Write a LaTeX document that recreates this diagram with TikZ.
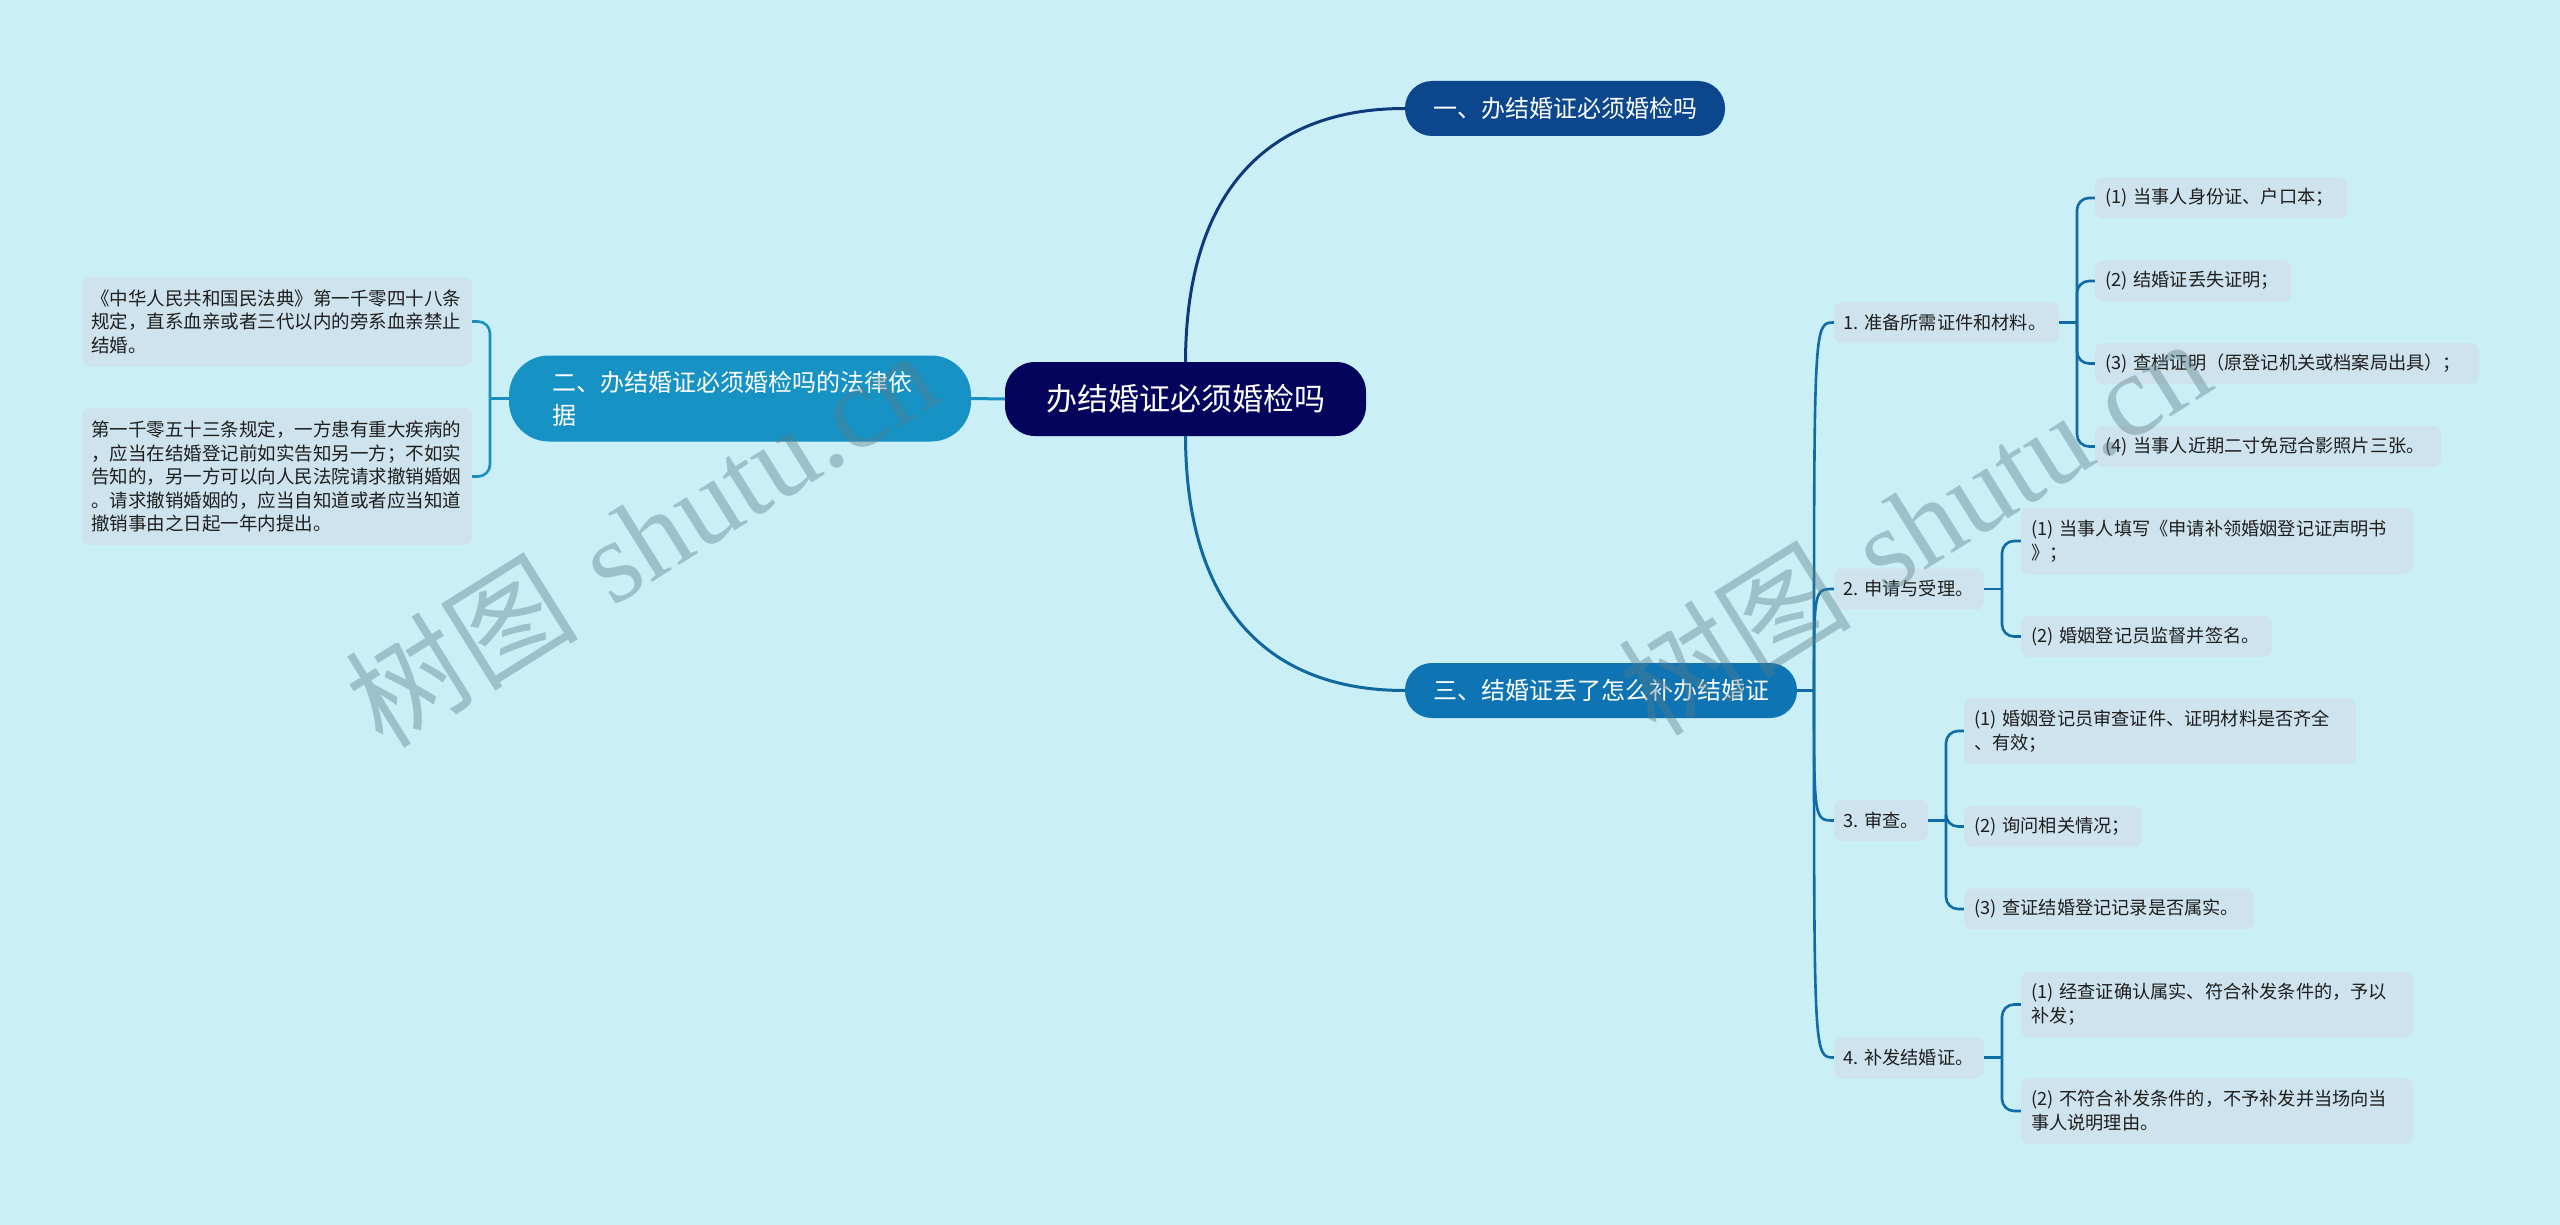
\documentclass[tikz,border=0pt]{standalone}
\usepackage{fontspec}
\newfontfamily\cjk{Noto Sans CJK SC}
\newfontfamily\wmserif{Liberation Serif}
\definecolor{bg}{RGB}{202,239,247}
\definecolor{rootc}{RGB}{4,4,92}
\definecolor{onec}{RGB}{12,70,140}
\definecolor{twoc}{RGB}{22,146,196}
\definecolor{threec}{RGB}{14,116,180}
\definecolor{leafc}{RGB}{206,227,238}
\definecolor{txt}{RGB}{30,30,30}
\definecolor{lineone}{RGB}{14,58,124}
\definecolor{linethree}{RGB}{16,104,160}
\definecolor{linetwo}{RGB}{26,144,192}
\definecolor{linesub}{RGB}{16,108,166}
\definecolor{wmc}{RGB}{90,125,135}
\begin{document}
\begin{tikzpicture}[x=1pt,y=-1pt,
  rootbox/.style={fill=rootc, text=white, rounded corners=30pt, inner xsep=30pt, inner ysep=0pt, minimum height=74pt, align=center, font=\cjk\fontsize{31}{36}\selectfont},
  topic/.style={fill=#1, text=white, rounded corners=27pt, inner xsep=28pt, inner ysep=0pt, minimum height=55pt, align=left, font=\cjk\fontsize{24}{33}\selectfont},
  leafbox/.style={fill=leafc, text=txt, rounded corners=8pt, inner xsep=9pt, inner ysep=0pt, align=left, font=\cjk\fontsize{18.5}{23.5}\selectfont},
  itembox/.style={fill=leafc, text=txt, rounded corners=8pt, inner xsep=10pt, inner ysep=0pt, minimum height=41pt, align=left, font=\cjk\fontsize{18.2}{24}\selectfont},
  mainline/.style={line width=3pt, #1},
  subline/.style={line width=2.6pt, draw=linesub},
  bracket/.style={line width=2.6pt, draw=#1, rounded corners=12pt},
  wm/.style={text=wmc, text opacity=0.4, font=\fontsize{117}{124}\selectfont, inner sep=0pt}
]
\useasboundingbox (0,0) rectangle (2560,1225);
\fill[bg] (0,0) rectangle (2560,1225);

% central and main topics
\node[rootbox, text width=301pt] (root) at (1185.5,399) {办结婚证必须婚检吗};
\node[topic=onec, text width=264pt] (n1) at (1565,108.5) {一、办结婚证必须婚检吗};
\node[topic=threec, text width=336pt] (n3) at (1601,690.5) {三、结婚证丢了怎么补办结婚证};
\node[topic=twoc, rounded corners=40pt, inner xsep=43pt, minimum height=86pt, text width=376pt] (n2) at (740,398.5) {二、办结婚证必须婚检吗的法律依\\据};

% left leaves
\node[leafbox, text width=372pt, minimum height=89pt] (la) at (277,321.5) {《中华人民共和国民法典》第一千零四十八条\\规定，直系血亲或者三代以内的旁系血亲禁止\\结婚。};
\node[leafbox, text width=372pt, minimum height=137pt] (lb) at (277,476.5) {第一千零五十三条规定，一方患有重大疾病的\\，应当在结婚登记前如实告知另一方；不如实\\告知的，另一方可以向人民法院请求撤销婚姻\\。请求撤销婚姻的，应当自知道或者应当知道\\撤销事由之日起一年内提出。};

% right sub-topics
\node[itembox, inner xsep=9pt, text width=207pt] (s1) at (1946.5,322.5) {1.~准备所需证件和材料。};
\node[itembox, inner xsep=9pt, text width=132pt] (s2) at (1909,589) {2.~申请与受理。};
\node[itembox, inner xsep=9pt, text width=76pt] (s3) at (1881,820.5) {3.~审查。};
\node[itembox, inner xsep=9pt, text width=132pt] (s4) at (1909,1057.5) {4.~补发结婚证。};

\node[itembox, text width=232pt] (s1a) at (2221,198) {(1)~当事人身份证、户口本；};
\node[itembox, text width=176pt] (s1b) at (2193,281) {(2)~结婚证丢失证明；};
\node[itembox, text width=364pt] (s1c) at (2287,363.5) {(3)~查档证明（原登记机关或档案局出具）；};
\node[itembox, text width=326pt] (s1d) at (2268,446.5) {(4)~当事人近期二寸免冠合影照片三张。};

\node[itembox, text width=372pt, minimum height=66pt] (s2a) at (2217,541) {(1)~当事人填写《申请补领婚姻登记证声明书\\》；};
\node[itembox, text width=231pt] (s2b) at (2146.5,636.5) {(2)~婚姻登记员监督并签名。};

\node[itembox, text width=372pt, minimum height=66pt] (s3a) at (2160,731) {(1)~婚姻登记员审查证件、证明材料是否齐全\\、有效；};
\node[itembox, text width=158pt] (s3b) at (2053,826.5) {(2)~询问相关情况；};
\node[itembox, text width=270pt] (s3c) at (2109,909) {(3)~查证结婚登记记录是否属实。};

\node[itembox, text width=372pt, minimum height=65pt] (s4a) at (2217,1004.5) {(1)~经查证确认属实、符合补发条件的，予以\\补发；};
\node[itembox, text width=372pt, minimum height=66pt] (s4b) at (2217,1111) {(2)~不符合补发条件的，不予补发并当场向当\\事人说明理由。};

% junctions
\coordinate (J2) at (490,398.5);
\coordinate (J3) at (1814,690.5);
\coordinate (Ja) at (2077,322.5);
\coordinate (Jb) at (2002,589);
\coordinate (Jc) at (1946,820.5);
\coordinate (Jd) at (2002,1057.5);

% main connectors
\draw[mainline=lineone] (root.north) .. controls (1186,200) and (1260,108.5) .. (n1.west);
\draw[mainline=linethree] (root.south) .. controls (1186,598) and (1260,690.5) .. (n3.west);
\draw[mainline=linetwo] (root.west) -- (n2.east);

% left bracket
\draw[line width=2.6pt, draw=linetwo] (n2.west) -- (J2);
\draw[bracket=linetwo] (J2) |- (la.east);
\draw[bracket=linetwo] (J2) |- (lb.east);

% right branch
\draw[subline] (n3.east) -- (J3);
\draw[subline] (J3) .. controls (J3 |- s1.west) .. (s1.west);
\draw[subline] (J3) .. controls (J3 |- s2.west) .. (s2.west);
\draw[subline] (J3) .. controls (J3 |- s3.west) .. (s3.west);
\draw[subline] (J3) .. controls (J3 |- s4.west) .. (s4.west);

% level 3 brackets
\draw[subline] (s1.east) -- (Ja);
\draw[bracket=linesub] (Ja) |- (s1a.west);
\draw[bracket=linesub] (Ja) |- (s1b.west);
\draw[bracket=linesub] (Ja) |- (s1c.west);
\draw[bracket=linesub] (Ja) |- (s1d.west);

\draw[subline] (s2.east) -- (Jb);
\draw[bracket=linesub] (Jb) |- (s2a.west);
\draw[bracket=linesub] (Jb) |- (s2b.west);

\draw[subline] (s3.east) -- (Jc);
\draw[bracket=linesub] (Jc) |- (s3a.west);
\draw[bracket=linesub] (Jc) |- (s3b.west);
\draw[bracket=linesub] (Jc) |- (s3c.west);

\draw[subline] (s4.east) -- (Jd);
\draw[bracket=linesub] (Jd) |- (s4a.west);
\draw[bracket=linesub] (Jd) |- (s4b.west);

% watermarks
\node[wm, rotate=32] (wm1) at (641,537) {{\cjk 树图} {\wmserif shutu.cn}};
\node[wm, rotate=32] (wm2) at (1914,525) {{\cjk 树图} {\wmserif shutu.cn}};
\end{tikzpicture}
\end{document}
